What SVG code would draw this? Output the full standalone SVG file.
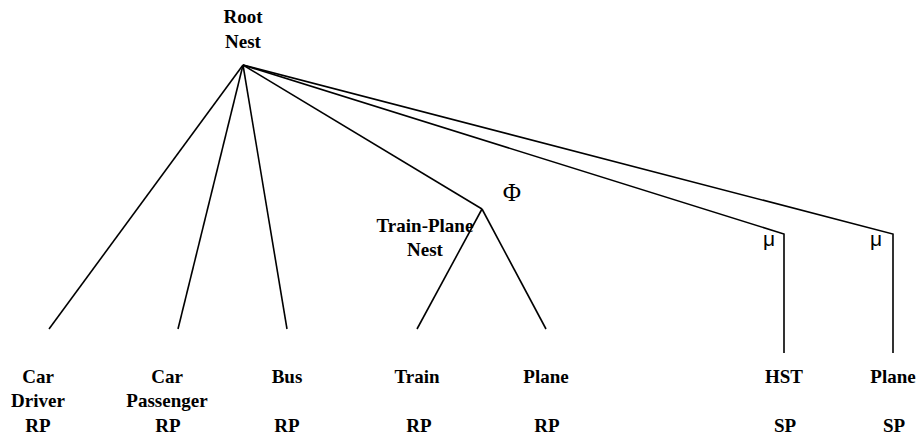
<svg xmlns="http://www.w3.org/2000/svg" width="920" height="438" viewBox="0 0 920 438">
<style>
.lbl{font-family:"Liberation Serif","Times New Roman",serif;font-weight:bold;font-size:19px;text-anchor:middle;fill:#000}
.sym{font-family:"Liberation Serif","Times New Roman",serif;font-size:25px;text-anchor:middle;fill:#000}
.mu{font-family:"Liberation Sans",Arial,sans-serif;font-size:21px;text-anchor:middle;fill:#000}
.edge{stroke:#000;stroke-width:1.6;fill:none}
</style>
<rect width="920" height="438" fill="#fff"/>
<g id="connectors">
<line class="edge" x1="243" y1="65" x2="49" y2="329"/>
<line class="edge" x1="243" y1="65" x2="178" y2="329"/>
<line class="edge" x1="243" y1="65" x2="287" y2="329"/>
<line class="edge" x1="243" y1="65" x2="482" y2="209"/>
<polyline class="edge" points="243,65 784,234 784,353"/>
<polyline class="edge" points="243,65 893,234 893,353"/>
<line class="edge" x1="482" y1="209" x2="417" y2="329"/>
<line class="edge" x1="482" y1="209" x2="546" y2="329"/>
</g>
<g id="root">
<text class="lbl" x="243" y="23">Root</text>
<text class="lbl" x="243" y="48">Nest</text>
</g>
<g id="train-plane-nest">
<text class="lbl" x="425" y="232">Train-Plane</text>
<text class="lbl" x="425" y="256">Nest</text>
<text class="sym" x="512" y="201">Φ</text>
</g>
<g id="mu-hst"><text class="mu" x="769" y="246">μ</text></g>
<g id="mu-plane"><text class="mu" x="876" y="246">μ</text></g>
<g id="car-driver">
<text class="lbl" x="38" y="383">Car</text>
<text class="lbl" x="38" y="407">Driver</text>
<text class="lbl" x="38" y="432">RP</text>
</g>
<g id="car-passenger">
<text class="lbl" x="167" y="383">Car</text>
<text class="lbl" x="167" y="407">Passenger</text>
<text class="lbl" x="168" y="432">RP</text>
</g>
<g id="bus">
<text class="lbl" x="287" y="383">Bus</text>
<text class="lbl" x="287" y="432">RP</text>
</g>
<g id="train">
<text class="lbl" x="417" y="383">Train</text>
<text class="lbl" x="419" y="432">RP</text>
</g>
<g id="plane-rp">
<text class="lbl" x="546" y="383">Plane</text>
<text class="lbl" x="547" y="432">RP</text>
</g>
<g id="hst">
<text class="lbl" x="784" y="383">HST</text>
<text class="lbl" x="785" y="432">SP</text>
</g>
<g id="plane-sp">
<text class="lbl" x="893" y="383">Plane</text>
<text class="lbl" x="894" y="432">SP</text>
</g>
</svg>
